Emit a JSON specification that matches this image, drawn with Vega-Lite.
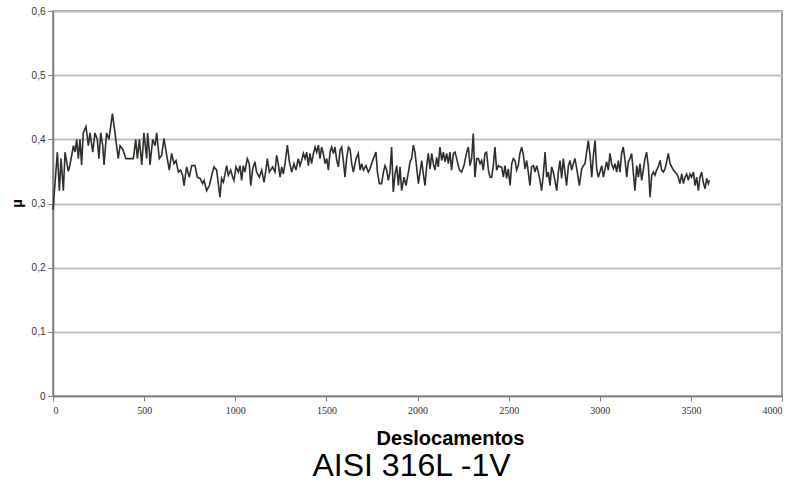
{
  "$schema": "https://vega.github.io/schema/vega-lite/v6.json",
  "width": 729,
  "height": 385,
  "autosize": {"type": "none"},
  "padding": {"left": 53, "top": 11, "right": 15, "bottom": 86},
  "background": "white",
  "config": {
    "view": {"stroke": "#808080", "strokeWidth": 1.5},
    "font": "Liberation Sans"
  },
  "title": {
    "text": "AISI 316L -1V",
    "orient": "bottom",
    "anchor": "middle",
    "fontSize": 32,
    "fontWeight": "normal",
    "font": "Liberation Sans",
    "color": "#000000",
    "baseline": "alphabetic",
    "offset": 28,
    "dx": -6
  },
  "data": {
    "values": [
      {"x":0,"y":0.29},{"x":24,"y":0.38},{"x":35,"y":0.32},{"x":44,"y":0.37},{"x":57,"y":0.32},{"x":66,"y":0.38},{"x":84,"y":0.35},{"x":93,"y":0.36},{"x":112,"y":0.39},{"x":121,"y":0.38},{"x":130,"y":0.40},{"x":139,"y":0.37},{"x":148,"y":0.40},{"x":157,"y":0.36},{"x":166,"y":0.41},{"x":181,"y":0.42},{"x":194,"y":0.39},{"x":203,"y":0.41},{"x":218,"y":0.38},{"x":230,"y":0.41},{"x":243,"y":0.40},{"x":252,"y":0.37},{"x":262,"y":0.41},{"x":273,"y":0.39},{"x":280,"y":0.36},{"x":294,"y":0.41},{"x":307,"y":0.40},{"x":326,"y":0.44},{"x":340,"y":0.41},{"x":349,"y":0.39},{"x":358,"y":0.37},{"x":368,"y":0.39},{"x":382,"y":0.385},{"x":400,"y":0.37},{"x":432,"y":0.37},{"x":441,"y":0.37},{"x":454,"y":0.40},{"x":463,"y":0.37},{"x":474,"y":0.40},{"x":487,"y":0.36},{"x":499,"y":0.41},{"x":514,"y":0.37},{"x":519,"y":0.41},{"x":529,"y":0.38},{"x":532,"y":0.36},{"x":547,"y":0.40},{"x":560,"y":0.39},{"x":569,"y":0.41},{"x":583,"y":0.37},{"x":596,"y":0.375},
      {"x":609,"y":0.401},{"x":624,"y":0.375},{"x":638,"y":0.352},{"x":651,"y":0.378},{"x":664,"y":0.362},{"x":675,"y":0.367},{"x":688,"y":0.349},{"x":700,"y":0.352},{"x":711,"y":0.344},{"x":719,"y":0.328},{"x":733,"y":0.357},{"x":748,"y":0.341},{"x":761,"y":0.359},{"x":779,"y":0.359},{"x":792,"y":0.341},{"x":807,"y":0.339},{"x":821,"y":0.331},{"x":829,"y":0.336},{"x":843,"y":0.320},{"x":858,"y":0.328},{"x":871,"y":0.344},{"x":883,"y":0.357},{"x":898,"y":0.352},{"x":907,"y":0.331},{"x":916,"y":0.310},{"x":925,"y":0.339},{"x":935,"y":0.333},{"x":953,"y":0.359},{"x":962,"y":0.344},{"x":975,"y":0.352},{"x":986,"y":0.341},{"x":993,"y":0.336},{"x":1004,"y":0.357},{"x":1017,"y":0.349},{"x":1026,"y":0.359},{"x":1035,"y":0.336},{"x":1044,"y":0.359},{"x":1053,"y":0.349},{"x":1066,"y":0.370},{"x":1077,"y":0.362},{"x":1085,"y":0.328},{"x":1096,"y":0.354},{"x":1108,"y":0.365},{"x":1117,"y":0.349},{"x":1132,"y":0.341},{"x":1145,"y":0.352},{"x":1158,"y":0.333},{"x":1169,"y":0.354},{"x":1176,"y":0.370},{"x":1187,"y":0.349},
      {"x":1205,"y":0.357},{"x":1218,"y":0.349},{"x":1227,"y":0.375},{"x":1236,"y":0.362},{"x":1246,"y":0.341},{"x":1255,"y":0.357},{"x":1264,"y":0.346},{"x":1273,"y":0.362},{"x":1286,"y":0.391},{"x":1297,"y":0.365},{"x":1310,"y":0.349},{"x":1322,"y":0.362},{"x":1333,"y":0.352},{"x":1346,"y":0.370},{"x":1355,"y":0.359},{"x":1364,"y":0.367},{"x":1374,"y":0.378},{"x":1383,"y":0.370},{"x":1392,"y":0.380},{"x":1401,"y":0.359},{"x":1410,"y":0.378},{"x":1419,"y":0.362},{"x":1429,"y":0.378},{"x":1438,"y":0.388},{"x":1447,"y":0.380},{"x":1456,"y":0.391},{"x":1465,"y":0.370},{"x":1474,"y":0.388},{"x":1483,"y":0.378},{"x":1493,"y":0.362},{"x":1502,"y":0.370},{"x":1511,"y":0.352},{"x":1520,"y":0.380},{"x":1529,"y":0.388},{"x":1538,"y":0.378},{"x":1547,"y":0.388},{"x":1557,"y":0.367},{"x":1566,"y":0.357},{"x":1575,"y":0.383},{"x":1584,"y":0.388},{"x":1593,"y":0.367},{"x":1602,"y":0.341},{"x":1611,"y":0.370},{"x":1621,"y":0.388},{"x":1630,"y":0.385},{"x":1639,"y":0.362},{"x":1648,"y":0.349},{"x":1663,"y":0.370},{"x":1675,"y":0.378},{"x":1685,"y":0.352},{"x":1694,"y":0.362},{"x":1703,"y":0.352},{"x":1717,"y":0.359},{"x":1730,"y":0.349},{"x":1739,"y":0.354},{"x":1758,"y":0.370},{"x":1772,"y":0.380},{"x":1780,"y":0.349},{"x":1791,"y":0.331},
      {"x":1803,"y":0.331},{"x":1813,"y":0.349},{"x":1822,"y":0.359},{"x":1831,"y":0.352},{"x":1840,"y":0.336},{"x":1849,"y":0.349},{"x":1858,"y":0.388},{"x":1867,"y":0.318},{"x":1877,"y":0.346},{"x":1886,"y":0.359},{"x":1895,"y":0.328},{"x":1904,"y":0.357},{"x":1913,"y":0.320},{"x":1926,"y":0.341},{"x":1937,"y":0.328},{"x":1950,"y":0.349},{"x":1959,"y":0.365},{"x":1968,"y":0.370},{"x":1977,"y":0.391},{"x":1986,"y":0.380},{"x":1995,"y":0.357},{"x":2005,"y":0.331},{"x":2014,"y":0.349},{"x":2023,"y":0.367},{"x":2032,"y":0.346},{"x":2041,"y":0.328},{"x":2050,"y":0.357},{"x":2059,"y":0.378},{"x":2069,"y":0.354},{"x":2078,"y":0.378},{"x":2087,"y":0.362},{"x":2096,"y":0.352},{"x":2105,"y":0.372},{"x":2114,"y":0.357},{"x":2123,"y":0.388},{"x":2133,"y":0.367},{"x":2142,"y":0.380},{"x":2151,"y":0.365},{"x":2160,"y":0.378},{"x":2169,"y":0.362},{"x":2178,"y":0.380},{"x":2187,"y":0.352},{"x":2197,"y":0.378},{"x":2206,"y":0.380},{"x":2215,"y":0.370},{"x":2230,"y":0.352},{"x":2242,"y":0.349},{"x":2255,"y":0.359},{"x":2270,"y":0.380},{"x":2279,"y":0.388},{"x":2288,"y":0.359},{"x":2297,"y":0.370},{"x":2306,"y":0.409},{"x":2315,"y":0.341},{"x":2325,"y":0.370},{"x":2334,"y":0.370},{"x":2343,"y":0.362},{"x":2352,"y":0.367},{"x":2361,"y":0.352},{"x":2370,"y":0.378},{"x":2379,"y":0.380},{"x":2389,"y":0.352},{"x":2398,"y":0.341},
      {"x":2407,"y":0.341},{"x":2416,"y":0.359},{"x":2425,"y":0.388},{"x":2434,"y":0.352},{"x":2444,"y":0.359},{"x":2453,"y":0.357},{"x":2462,"y":0.357},{"x":2471,"y":0.341},{"x":2480,"y":0.359},{"x":2489,"y":0.339},{"x":2498,"y":0.354},{"x":2508,"y":0.328},{"x":2517,"y":0.362},{"x":2526,"y":0.370},{"x":2535,"y":0.367},{"x":2544,"y":0.352},{"x":2553,"y":0.359},{"x":2562,"y":0.378},{"x":2572,"y":0.388},{"x":2581,"y":0.375},{"x":2590,"y":0.354},{"x":2599,"y":0.367},{"x":2608,"y":0.349},{"x":2617,"y":0.328},{"x":2626,"y":0.357},{"x":2636,"y":0.359},{"x":2645,"y":0.349},{"x":2654,"y":0.359},{"x":2663,"y":0.349},{"x":2672,"y":0.336},{"x":2681,"y":0.320},{"x":2690,"y":0.344},{"x":2700,"y":0.380},{"x":2709,"y":0.341},{"x":2718,"y":0.349},{"x":2727,"y":0.328},{"x":2736,"y":0.357},{"x":2745,"y":0.349},{"x":2754,"y":0.336},{"x":2764,"y":0.320},{"x":2773,"y":0.349},{"x":2782,"y":0.367},{"x":2791,"y":0.339},{"x":2800,"y":0.370},{"x":2809,"y":0.349},{"x":2818,"y":0.328},{"x":2828,"y":0.359},{"x":2837,"y":0.367},{"x":2846,"y":0.352},{"x":2855,"y":0.362},{"x":2864,"y":0.370},{"x":2877,"y":0.349},{"x":2888,"y":0.328},{"x":2901,"y":0.354},{"x":2910,"y":0.359},{"x":2919,"y":0.362},{"x":2928,"y":0.380},{"x":2937,"y":0.398},{"x":2947,"y":0.375},{"x":2956,"y":0.341},{"x":2965,"y":0.375},{"x":2974,"y":0.398},{"x":2983,"y":0.354},{"x":2992,"y":0.341},
      {"x":3001,"y":0.349},{"x":3011,"y":0.359},{"x":3020,"y":0.341},{"x":3029,"y":0.354},{"x":3038,"y":0.365},{"x":3047,"y":0.352},{"x":3056,"y":0.378},{"x":3065,"y":0.362},{"x":3075,"y":0.354},{"x":3084,"y":0.362},{"x":3093,"y":0.349},{"x":3102,"y":0.367},{"x":3111,"y":0.349},{"x":3120,"y":0.378},{"x":3129,"y":0.388},{"x":3139,"y":0.367},{"x":3148,"y":0.341},{"x":3157,"y":0.365},{"x":3166,"y":0.370},{"x":3175,"y":0.378},{"x":3184,"y":0.349},{"x":3193,"y":0.320},{"x":3203,"y":0.359},{"x":3212,"y":0.341},{"x":3221,"y":0.362},{"x":3230,"y":0.336},{"x":3239,"y":0.352},{"x":3248,"y":0.370},{"x":3257,"y":0.380},{"x":3267,"y":0.357},{"x":3276,"y":0.310},{"x":3285,"y":0.344},{"x":3294,"y":0.349},{"x":3303,"y":0.344},{"x":3312,"y":0.352},{"x":3321,"y":0.357},{"x":3331,"y":0.367},{"x":3340,"y":0.352},{"x":3349,"y":0.349},{"x":3358,"y":0.354},{"x":3367,"y":0.365},{"x":3376,"y":0.378},{"x":3386,"y":0.362},{"x":3395,"y":0.357},{"x":3404,"y":0.352},{"x":3413,"y":0.349},{"x":3422,"y":0.346},{"x":3431,"y":0.341},{"x":3440,"y":0.331},{"x":3450,"y":0.346},{"x":3459,"y":0.331},{"x":3468,"y":0.341},{"x":3477,"y":0.346},{"x":3486,"y":0.336},{"x":3495,"y":0.346},{"x":3504,"y":0.341},{"x":3514,"y":0.349},{"x":3523,"y":0.328},{"x":3532,"y":0.341},{"x":3541,"y":0.320},{"x":3550,"y":0.341},{"x":3559,"y":0.349},{"x":3568,"y":0.333},{"x":3578,"y":0.323},{"x":3587,"y":0.339},{"x":3596,"y":0.331},{"x":3601,"y":0.336}
    ]
  },
  "mark": {"type": "line", "color": "#2e2e2a", "strokeWidth": 1.6, "interpolate": "linear"},
  "encoding": {
    "x": {
      "field": "x",
      "type": "quantitative",
      "scale": {"domain": [0, 4000], "nice": false, "zero": false},
      "axis": {
        "values": [0, 500, 1000, 1500, 2000, 2500, 3000, 3500, 4000],
        "format": "d",
        "grid": false,
        "domainColor": "#808080",
        "domainWidth": 1.5,
        "tickColor": "#808080",
        "tickSize": 5,
        "labelFontSize": 10,
        "labelColor": "#333333",
        "labelPadding": 4,
        "labelFont": "Liberation Sans Narrow",
        "title": "Deslocamentos",
        "titleFont": "Liberation Sans",
        "titleFontSize": 20,
        "titleFontWeight": "bold",
        "titleColor": "#000000",
        "titleAnchor": "start",
        "titleAlign": "center",
        "titleX": 397,
        "titleY": 48,
        "titleBaseline": "alphabetic"
      }
    },
    "y": {
      "field": "y",
      "type": "quantitative",
      "scale": {"domain": [0, 0.6], "nice": false, "zero": false},
      "axis": {
        "values": [0, 0.1, 0.2, 0.3, 0.4, 0.5, 0.6],
        "labelExpr": "replace(format(datum.value, '~g'), '.', ',')",
        "grid": true,
        "gridColor": "#c0c0c0",
        "gridWidth": 1.8,
        "domainColor": "#808080",
        "domainWidth": 1.5,
        "tickColor": "#808080",
        "tickSize": 5,
        "labelFontSize": 10,
        "labelColor": "#333333",
        "labelPadding": 3,
        "title": "µ",
        "titleFont": "Liberation Sans",
        "titleFontSize": 15,
        "titleFontWeight": "bold",
        "titleColor": "#000000",
        "titleAngle": -90,
        "titleX": -37,
        "titleY": 192,
        "titleAlign": "center",
        "titleBaseline": "middle"
      }
    }
  }
}
